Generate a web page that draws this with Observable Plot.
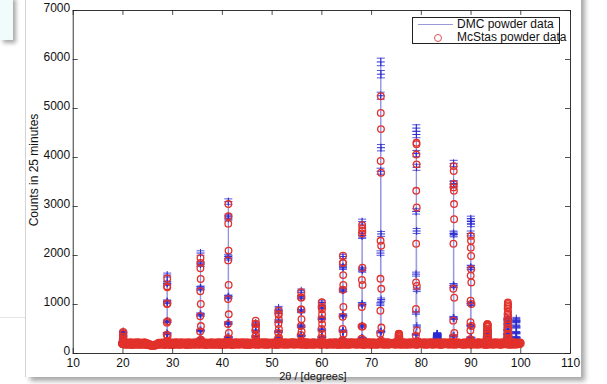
<!DOCTYPE html>
<html><head><meta charset="utf-8">
<script src="https://cdn.jsdelivr.net/npm/d3@7"></script>
<script src="https://cdn.jsdelivr.net/npm/@observablehq/plot@0.6"></script>
<style>
html,body{margin:0;padding:0;background:#fff;}
#wrap{position:relative;width:607px;height:384px;overflow:hidden;font-family:"Liberation Sans",Arial,sans-serif;}
#tl{position:absolute;left:0;top:-4px;width:13px;height:44px;background:#f2fbfb;box-shadow:3px 3px 4px rgba(0,0,0,.35);}
#panel{position:absolute;left:26px;top:-10px;width:555px;height:387px;background:#fff;box-shadow:4px 4px 5px rgba(0,0,0,.35),-1px 0 0 #d6d6d6;}
#faint{position:absolute;left:0;top:317px;width:25px;height:1px;background:#e6e6e6;}
#chart{position:absolute;left:0;top:0;}
#legbox{position:absolute;left:412px;top:17px;width:148px;height:27px;border:1px solid #222;background:#fff;box-sizing:border-box;}
#legline{position:absolute;left:418px;top:24px;width:35px;height:1px;background:#9a9ad8;}
#legcirc{position:absolute;left:434px;top:34px;width:6px;height:6px;border:1px solid #e05050;border-radius:50%;}
.legtxt{position:absolute;left:457px;font-size:12px;line-height:14px;color:#111;white-space:nowrap;}
</style></head>
<body>
<div id="wrap">
  <div id="faint"></div>
  <div id="tl"></div>
  <div id="panel"></div>
  <div id="chart"></div>
  <div id="legbox"></div>
  <div id="legline"></div>
  <div id="legcirc"></div>
  <span class="legtxt" style="top:17px">DMC powder data</span>
  <span class="legtxt" style="top:30px">McStas powder data</span>
</div>
<script>
// ---- axes ----
const xTicks = [10, 20, 30, 40, 50, 60, 70, 80, 90, 100, 110];
const yTicks = [0, 1000, 2000, 3000, 4000, 5000, 6000, 7000];
const seriesNames = ["DMC powder data", "McStas powder data"];

// ---- McStas baseline, detector grid 20.0 .. 100.0 deg every 0.1 deg ----
const gridStart = 20, gridStep = 0.1;
const mcBaseline = [
214,188,226,197,179,231,205,184,219,196, 182,223,201,176,215,192,229,187,208,174,
221,195,183,227,204,178,216,199,233,186, 193,228,176,210,189,224,201,181,217,206,
178,212,196,230,184,203,219,175,208,191, 186,172,199,168,183,161,177,158,174,165,
159,176,163,181,157,172,166,185,171,189, 203,181,222,194,177,216,208,185,227,198,
187,219,199,174,213,228,190,206,181,224, 209,178,231,196,184,220,175,211,193,226,
176,214,190,227,203,180,218,197,232,185, 222,195,181,216,207,176,229,188,204,215,
191,226,205,179,218,194,183,224,199,172, 215,184,230,197,176,212,203,188,227,193,
180,221,194,209,186,233,177,216,198,206, 225,189,212,177,220,195,183,229,201,187,
197,231,179,214,190,206,224,175,211,219, 184,208,222,193,178,217,198,231,185,204,
219,176,205,228,196,183,215,189,223,178, 202,226,187,198,232,174,209,220,181,215,
188,211,230,179,201,224,192,177,218,206, 229,183,196,215,185,207,231,194,178,221,
174,218,203,189,226,180,213,199,232,187, 212,195,178,224,198,216,183,227,190,205,
196,230,209,182,219,192,176,211,223,181, 223,185,215,201,174,228,204,189,216,197,
181,207,192,233,188,213,197,179,225,210, 217,176,224,195,209,184,220,203,186,231,
193,220,185,211,227,178,199,232,207,180, 206,189,228,177,215,203,188,221,194,214,
228,198,179,219,192,225,210,183,201,176, 185,213,204,226,180,196,217,229,188,219,
210,182,221,190,208,177,232,195,214,203, 177,225,197,213,184,219,191,206,230,186,
220,203,185,231,199,211,178,224,193,208, 191,216,226,183,214,187,205,197,181,227,
203,179,209,220,193,230,184,212,218,175, 232,196,188,205,224,178,216,201,190,213,
185,218,229,176,207,195,221,183,227,199, 214,190,203,219,181,226,198,209,176,222,
197,224,183,211,230,188,204,217,192,180, 209,177,218,195,186,213,227,182,223,201,
183,215,200,228,179,207,194,231,187,212, 226,192,174,216,204,221,185,198,209,178,
189,230,213,184,222,196,208,177,219,203, 218,181,197,225,191,176,214,229,186,211,
195,209,231,187,215,200,182,220,197,224, 178,223,190,206,228,184,217,193,212,185,
213,186,220,199,175,211,226,205,181,230, 200,227,184,217,195,229,190,178,224,192,
221,179,208,192,231,186,213,222,199,176, 187,214,196,227,183,218,201,190,215,207,
216,198,225,180,209,194,228,185,203,220, 181,231,189,212,224,177,206,219,192,198,
210,193,217,201,186,215,182,230,208,184, 228,184,206,222,197,213,196,180,221,193,
191,219,178,209,232,189,211,226,185,217, 205,177,223,194,210,184,220,199,229,182,
219,208,186,228,191,216,203,187,212,225, 176,213,231,182,204,226,194,218,190,201,
224,196,204,215,183,200,229,179,207,214, 188,225,178,197,219,191,211,223,186,230,
212,183,220,208,177,224,189,202,216,194, 197,229,192,181,213,205,227,184,221,178,
179,206,216,230,195,182,214,199,226,209, 223,190,201,187,221,211,178,232,193,217,
208,217,185,226,198,183,222,204,181,213, 182,231,210,193,215,228,187,219,202,195,
215,194,179,220,206,189,225,176,227,210, 193,211,226,184,229,207,196,214,183,222,
227,180,203,219,188,216,201,190,211,186, 184,220,195,207,232,179,218,226,197,214,
211,202,228,186,199,213,183,209,224,176, 198,185,214,225,180,206,229,193,187,220,
222,216,190,178,221,197,210,184,230,205, 186,203,227,212,194,183,224,217,199,178,
217,179,198,231,207,220,188,201,213,226, 203,224,186,195,216,181,209,228,185,211,
180,212,221,204,189,230,197,179,222,193, 226,195,183,218,210,187,215,206,191,224,
208
];

// ---- Bragg peaks: centre (deg), counts sampled at centre + offset ----
const peakCentres = [20.05, 28.9, 35.6, 41.2, 46.7, 51.3, 55.85, 60.0, 64.25, 68.1,
                     71.85, 75.5, 79.0, 83.2, 86.5, 89.95, 93.3, 97.4, 99.1];
const peakOffsets = [-0.20,-0.18,-0.16,-0.14,-0.12,-0.10,-0.08,-0.06,-0.04,-0.02,0,
                     0.02,0.04,0.06,0.08,0.10,0.12,0.14,0.16,0.18,0.20];
const dmcPeaks = [
 [212,208,215,210,214,220,244,287,356,421,450,418,359,283,240,219,211,209,213,207,210],
 [212,218,209,221,229,268,410,655,1060,1430,1600,1440,1050,660,400,272,230,218,214,220,211],
 [216,210,222,214,233,290,470,800,1330,1830,2050,1820,1340,790,465,285,236,219,213,221,209],
 [219,213,224,216,243,330,620,1150,1980,2760,3100,2790,1950,1160,620,330,245,221,216,209,222],
 [214,220,211,217,219,232,270,345,460,570,620,572,455,342,268,231,218,213,221,210,216],
 [217,211,223,214,224,243,318,450,660,845,930,850,655,445,312,246,222,215,220,212,218],
 [213,221,215,210,228,258,365,560,870,1150,1280,1160,860,555,362,255,226,218,212,219,214],
 [220,214,211,223,226,250,335,480,720,945,1040,950,715,478,330,248,224,216,213,222,215],
 [216,212,222,217,235,288,460,780,1290,1770,1980,1760,1300,775,455,285,238,219,214,220,211],
 [218,214,221,213,240,315,560,1010,1720,2400,2690,2410,1700,1000,565,312,242,220,216,212,223],
 [222,215,219,226,275,440,1010,2050,3720,5260,5950,5700,4200,2440,1100,450,270,228,218,213,221],
 [215,212,220,218,226,235,246,255,262,268,270,266,258,250,240,231,224,219,213,220,216],
 [219,214,223,228,262,390,830,1620,2900,4080,4600,4470,3800,2500,1300,560,290,231,217,222,212],
 [216,222,230,248,275,305,340,368,388,398,402,395,382,360,330,298,268,245,228,219,214],
 [220,213,218,226,255,360,730,1390,2450,3450,3880,3470,2430,1380,720,355,258,224,215,221,217],
 [214,221,217,212,240,320,570,1020,1760,2450,2750,2700,2640,1750,1010,560,315,238,219,213,222],
 [225,240,262,290,325,360,395,425,448,462,468,463,450,428,398,362,328,293,265,243,226],
 [225,240,270,320,390,470,560,640,690,715,720,700,650,580,500,420,350,290,255,235,224],
 [218,224,215,221,230,262,330,430,560,660,710,650,540,420,320,258,232,220,214,223,217]
];
const mcPeaks = [
 [198,203,196,201,205,210,236,272,345,405,440,412,342,278,231,209,203,199,202,197,200],
 [203,197,205,199,212,255,385,630,1010,1370,1530,1350,1020,660,350,248,214,202,198,204,199],
 [197,204,201,196,218,270,450,760,1270,1740,1950,1850,1520,1010,560,280,221,206,199,203,198],
 [202,196,204,199,228,310,600,1110,1900,2650,3050,2800,2100,1400,800,420,238,207,201,197,203],
 [199,203,197,205,206,219,262,350,490,610,670,600,520,380,300,225,208,201,196,204,200],
 [201,197,204,198,210,228,300,420,600,800,875,790,700,500,330,240,211,203,199,205,196],
 [198,204,201,197,213,245,380,560,900,1150,1250,1140,900,700,450,260,215,205,200,196,203],
 [203,198,202,196,211,232,315,500,700,950,1045,900,800,600,400,245,213,201,197,204,199],
 [200,204,197,202,220,275,500,750,1300,1850,1995,1850,1600,1400,950,400,230,206,199,203,197],
 [199,205,198,203,226,300,550,950,1500,2450,2620,2550,2500,1750,1400,550,250,210,201,197,204],
 [201,197,205,203,240,400,875,1525,2300,3930,4910,5250,4580,3690,2200,1320,530,260,208,199,202],
 [201,205,214,232,262,300,340,372,392,400,402,398,388,368,335,298,260,230,212,204,199],
 [203,198,201,209,240,360,910,1450,2240,3320,4060,4300,4270,3860,2980,1380,470,250,207,200,197],
 [198,202,196,203,199,205,201,197,204,200,198,203,199,196,202,205,197,201,199,204,200],
 [199,204,198,207,236,330,670,1320,2240,3390,3825,3725,3460,3320,3050,2740,1140,420,215,203,198],
 [202,197,203,199,222,290,470,640,1080,1590,2160,2400,2300,1990,1720,1450,1010,560,250,205,200],
 [210,235,270,320,380,440,500,548,580,596,600,594,576,545,500,440,380,320,268,232,208],
 [215,250,310,400,500,600,700,800,920,980,1040,1010,950,850,760,640,520,400,310,250,215],
 [201,197,204,199,203,198,202,196,205,200,197,203,199,204,198,202,200,196,203,199,201]
];

// ---- build point tables ----
const mcPoints = mcBaseline.map((c, i) => ({x: gridStart + i * gridStep, y: c}));
peakCentres.forEach((c, k) => peakOffsets.forEach((o, j) => mcPoints.push({x: c + o, y: mcPeaks[k][j]})));
const dmcPoints = [];
peakCentres.forEach((c, k) => peakOffsets.forEach((o, j) => dmcPoints.push({x: c + o, y: dmcPeaks[k][j]})));

// custom stroke symbols
const plusSym = {draw(ctx, size) { const h = Math.sqrt(size / Math.PI); ctx.moveTo(-h, 0); ctx.lineTo(h, 0); ctx.moveTo(0, -h); ctx.lineTo(0, h); }};
const capSym = {draw(ctx, size) { const h = Math.sqrt(size / Math.PI); ctx.moveTo(-h, 0); ctx.lineTo(h, 0); }};

const blueLine = "#8585dc", blueMark = "#2b2bd2", blueErr = "#6d6de4", red = "#e2322c", axisCol = "#222";

const chart = Plot.plot({
  width: 607, height: 384,
  marginLeft: 72.7, marginRight: 37, marginTop: 10, marginBottom: 31,
  x: {domain: [10, 110], label: null},
  y: {domain: [0, 7000], label: null},
  style: {background: "transparent", fontFamily: "Liberation Sans, Arial, sans-serif", fontSize: "12px", color: "#111", overflow: "visible"},
  marks: [
    Plot.line(dmcPoints, {x: "x", y: "y", stroke: blueLine, strokeWidth: 0.8}),
    Plot.ruleX(dmcPoints, {x: "x", y1: d => d.y - Math.sqrt(d.y), y2: d => d.y + Math.sqrt(d.y), stroke: blueErr, strokeWidth: 0.8}),
    Plot.dot(dmcPoints, {x: "x", y: d => d.y + Math.sqrt(d.y), symbol: capSym, r: 4, fill: "none", stroke: blueMark, strokeWidth: 0.8}),
    Plot.dot(dmcPoints, {x: "x", y: d => d.y - Math.sqrt(d.y), symbol: capSym, r: 4, fill: "none", stroke: blueMark, strokeWidth: 0.8}),
    Plot.dot(dmcPoints, {x: "x", y: "y", symbol: plusSym, r: 4, fill: "none", stroke: blueMark, strokeWidth: 1}),
    Plot.dot(mcPoints, {x: "x", y: "y", symbol: "circle", r: 3.3, fill: "none", stroke: red, strokeWidth: 1.3}),
    Plot.frame({stroke: axisCol, strokeWidth: 0.9}),
    Plot.ruleX(xTicks, {x: d => d, y1: 0, y2: 100, stroke: axisCol, strokeWidth: 0.8}),
    Plot.ruleX(xTicks, {x: d => d, y1: 7000, y2: 6900, stroke: axisCol, strokeWidth: 0.8}),
    Plot.ruleY(yTicks, {y: d => d, x1: 10, x2: 11, stroke: axisCol, strokeWidth: 0.8}),
    Plot.ruleY(yTicks, {y: d => d, x1: 110, x2: 109, stroke: axisCol, strokeWidth: 0.8}),
    Plot.axisX(xTicks, {tickSize: 0, tickPadding: 5, tickFormat: d => String(d), fill: "#111"}),
    Plot.axisY(yTicks, {tickSize: 0, tickPadding: 3, tickFormat: d => String(d), fill: "#111", dy: -2}),
    Plot.text(["Counts in 25 minutes"], {text: d => d, frameAnchor: "left", textAnchor: "middle", lineAnchor: "middle", rotate: -90, dx: -39, dy: -12, fill: "#111"}),
    Plot.text(["2θ / [degrees]"], {text: d => d, frameAnchor: "bottom", textAnchor: "middle", lineAnchor: "middle", dy: 22.5, dx: -9, fontSize: 11, fill: "#111"})
  ]
});
document.getElementById("chart").appendChild(chart);
</script>
</body></html>
